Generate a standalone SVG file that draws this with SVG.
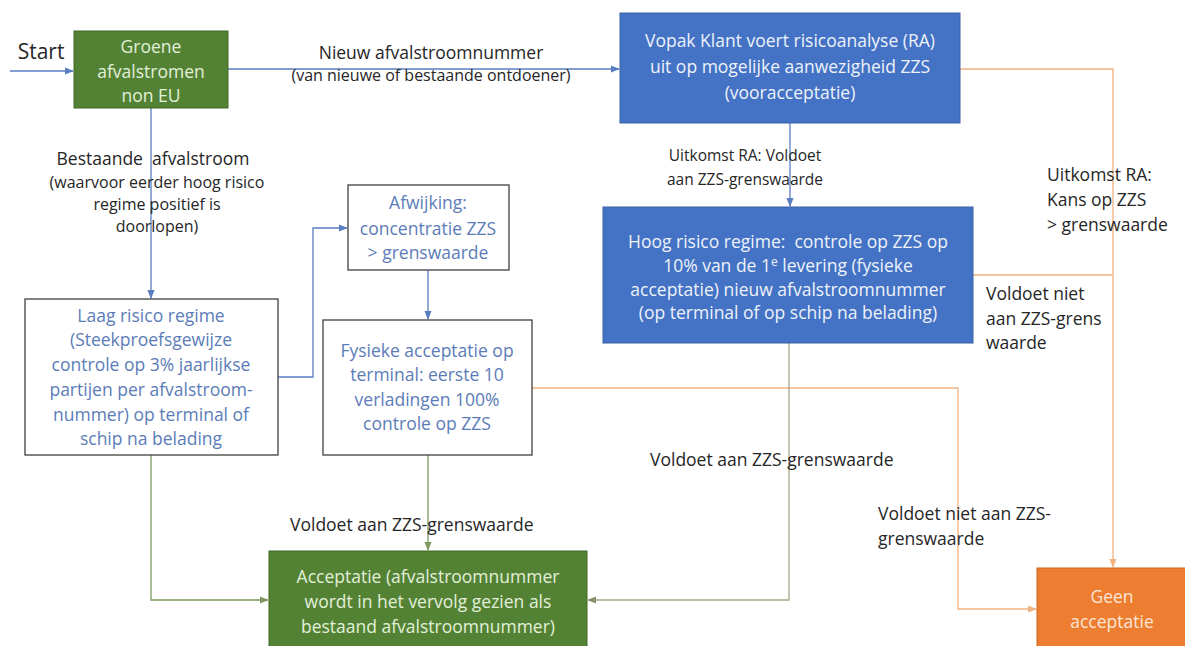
<svg xmlns="http://www.w3.org/2000/svg" width="1185" height="646" viewBox="0 0 1185 646">
<style>
text{font-family:"Open Sans","Liberation Sans",sans-serif;font-size:17.5px;text-anchor:middle;white-space:pre}
.lbl{fill:#262626}
.sm{font-size:16px}
.g{fill:#548235;stroke:#3f6a26;stroke-width:1}
.b{fill:#4472C4;stroke:#3a62a8;stroke-width:1}
.o{fill:#ED7D31;stroke:#c9651f;stroke-width:1}
.w{fill:#fff;stroke:#404040;stroke-width:1.3}
.tg{fill:#E2F0D9}
.tb{fill:#EEF2FA}
.to{fill:#FBE5D6}
.tw{fill:#5B7CB8}
.cb{stroke:#5A7EC0;fill:none;stroke-width:1.3}
.co{stroke:#F2B27E;fill:none;stroke-width:1.3}
.cg{stroke:#7E9A5E;fill:none;stroke-width:1.3}
.cy{stroke:#A8A68A;fill:none;stroke-width:1.3}
</style>
<defs>
<marker id="ab" viewBox="0 0 10 10" refX="9" refY="5" markerWidth="7" markerHeight="7" orient="auto"><path d="M0,1 L10,5 L0,9 z" fill="#5A7EC0"/></marker>
<marker id="ao" viewBox="0 0 10 10" refX="9" refY="5" markerWidth="7" markerHeight="7" orient="auto"><path d="M0,1 L10,5 L0,9 z" fill="#F2B27E"/></marker>
<marker id="ag" viewBox="0 0 10 10" refX="9" refY="5" markerWidth="7" markerHeight="7" orient="auto"><path d="M0,1 L10,5 L0,9 z" fill="#7E9A5E"/></marker>
<marker id="ay" viewBox="0 0 10 10" refX="9" refY="5" markerWidth="7" markerHeight="7" orient="auto"><path d="M0,1 L10,5 L0,9 z" fill="#8E8C70"/></marker>
</defs>
<rect width="1185" height="646" fill="#fff"/>
<g id="connectors">
<path class="cb" d="M10,71 H73" marker-end="url(#ab)"/>
<path class="cb" d="M228,69 H619" marker-end="url(#ab)"/>
<path class="cb" d="M151,108 V298" marker-end="url(#ab)"/>
<path class="cb" d="M790,123 V206" marker-end="url(#ab)"/>
<path class="cb" d="M278,377 H313 V228 H347" marker-end="url(#ab)"/>
<path class="cb" d="M428,270 V319" marker-end="url(#ab)"/>
<path class="co" d="M960,69 H1113 V567" marker-end="url(#ao)"/>
<path class="co" d="M973,275 H1113"/>
<path class="co" d="M532,388 H958 V609 H1036" marker-end="url(#ao)"/>
<path class="cg" d="M428,455 V550" marker-end="url(#ag)"/>
<path class="cg" d="M151,455 V600 H268" marker-end="url(#ag)"/>
<path class="cy" d="M789,343 V600 H588" marker-end="url(#ay)"/>
</g>
<g id="labels">
<text class="lbl" x="41" y="59" style="font-size:21px">Start</text>
<text class="lbl" x="431" y="59">Nieuw afvalstroomnummer</text>
<text class="lbl sm" x="431" y="81">(van nieuwe of bestaande ontdoener)</text>
<text class="lbl" x="153" y="165">Bestaande  afvalstroom</text>
<text class="lbl sm" x="157" y="188">(waarvoor eerder hoog risico</text>
<text class="lbl sm" x="157" y="210">regime positief is</text>
<text class="lbl sm" x="157" y="232">doorlopen)</text>
<text class="lbl" x="745" y="161" style="font-size:15.5px">Uitkomst RA: Voldoet</text>
<text class="lbl" x="745" y="185" style="font-size:15.5px">aan ZZS-grenswaarde</text>
<text class="lbl" x="1047" y="181" style="text-anchor:start">Uitkomst RA:</text>
<text class="lbl" x="1047" y="206" style="text-anchor:start">Kans op ZZS</text>
<text class="lbl" x="1047" y="231" style="text-anchor:start">&gt; grenswaarde</text>
<text class="lbl" x="986" y="300" style="text-anchor:start">Voldoet niet</text>
<text class="lbl" x="986" y="325" style="text-anchor:start">aan ZZS-grens</text>
<text class="lbl" x="986" y="349" style="text-anchor:start">waarde</text>
<text class="lbl" x="650" y="466" style="text-anchor:start">Voldoet aan ZZS-grenswaarde</text>
<text class="lbl" x="290" y="531" style="text-anchor:start">Voldoet aan ZZS-grenswaarde</text>
<text class="lbl" x="878" y="520" style="text-anchor:start">Voldoet niet aan ZZS-</text>
<text class="lbl" x="878" y="545" style="text-anchor:start">grenswaarde</text>
</g>
<g id="groene">
<rect class="g" x="74" y="31" width="154" height="77"/>
<text class="tg" x="151" y="53">Groene</text>
<text class="tg" x="151" y="78">afvalstromen</text>
<text class="tg" x="151" y="102">non EU</text>
</g>
<g id="vopak">
<rect class="b" x="620" y="13" width="340" height="110"/>
<text class="tb" x="790" y="47">Vopak Klant voert risicoanalyse (RA)</text>
<text class="tb" x="790" y="73">uit op mogelijke aanwezigheid ZZS</text>
<text class="tb" x="790" y="99">(vooracceptatie)</text>
</g>
<g id="hoog">
<rect class="b" x="603" y="207" width="370" height="136"/>
<text class="tb" x="788" y="248">Hoog risico regime:  controle op ZZS op</text>
<text class="tb" x="788" y="272">10% van de 1<tspan style="font-size:12px" dy="-6">e</tspan><tspan dy="6"> levering (fysieke</tspan></text>
<text class="tb" x="788" y="296">acceptatie) nieuw afvalstroomnummer</text>
<text class="tb" x="788" y="319">(op terminal of op schip na belading)</text>
</g>
<g id="afwijking">
<rect class="w" x="348" y="185" width="161" height="85"/>
<text class="tw" x="428" y="209">Afwijking:</text>
<text class="tw" x="428" y="235">concentratie ZZS</text>
<text class="tw" x="428" y="259">&gt; grenswaarde</text>
</g>
<g id="laag">
<rect class="w" x="25" y="299" width="253" height="156"/>
<text class="tw" x="151" y="322">Laag risico regime</text>
<text class="tw" x="151" y="346">(Steekproefsgewijze</text>
<text class="tw" x="151" y="371">controle op 3% jaarlijkse</text>
<text class="tw" x="151" y="396">partijen per afvalstroom-</text>
<text class="tw" x="151" y="421">nummer) op terminal of</text>
<text class="tw" x="151" y="445">schip na belading</text>
</g>
<g id="fysieke">
<rect class="w" x="323" y="320" width="209" height="135"/>
<text class="tw" x="427" y="357">Fysieke acceptatie op</text>
<text class="tw" x="427" y="381">terminal: eerste 10</text>
<text class="tw" x="427" y="406">verladingen 100%</text>
<text class="tw" x="427" y="430">controle op ZZS</text>
</g>
<g id="acceptatie">
<rect class="g" x="269" y="551" width="318" height="100"/>
<text class="tg" x="428" y="583">Acceptatie (afvalstroomnummer</text>
<text class="tg" x="428" y="608">wordt in het vervolg gezien als</text>
<text class="tg" x="428" y="633">bestaand afvalstroomnummer)</text>
</g>
<g id="geen">
<rect class="o" x="1037" y="568" width="152" height="82"/>
<text class="to" x="1112" y="603">Geen</text>
<text class="to" x="1112" y="628">acceptatie</text>
</g>
</svg>
